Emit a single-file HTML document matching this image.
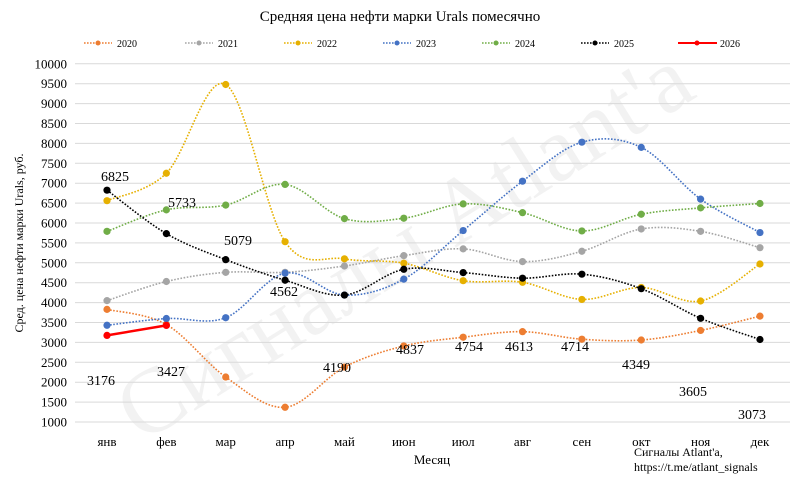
<!DOCTYPE html><html><head><meta charset="utf-8"><style>body{margin:0;background:#fff;overflow:hidden}svg{display:block}text{font-family:"Liberation Serif",serif}</style></head><body>
<svg id="s" width="800" height="477" viewBox="0 0 800 477" xmlns="http://www.w3.org/2000/svg" overflow="hidden">
<text x="400" y="21" font-size="15" text-anchor="middle">Средняя цена нефти марки Urals помесячно</text>
<text transform="translate(420,270) rotate(-32)" font-size="92" fill="#000" fill-opacity="0.05" text-anchor="middle">Сигналы Atlant'a</text>
<text transform="translate(23,243) rotate(-90)" font-size="12" text-anchor="middle">Сред. цена нефти марки Urals, руб.</text>
<text x="432" y="464" font-size="13" text-anchor="middle">Месяц</text>
<text x="634" y="456" font-size="12">Сигналы Atlant'a,</text>
<text x="634" y="471" font-size="12">https://t.me/atlant_signals</text>
<g id="g"></g>
</svg>
<script>
const s=document.getElementById('g');let h='';
const Y=v=>422-(v-1000)*0.0398, X=i=>107+59.36*i;
for(let v=1000;v<=10000;v+=500){h+=`<line x1="75" x2="790" y1="${Y(v)}" y2="${Y(v)}" stroke="#d9d9d9" stroke-width="1"/><text x="67" y="${Y(v)+4.5}" font-size="13" text-anchor="end">${v}</text>`;}
const m=['янв','фев','мар','апр','май','июн','июл','авг','сен','окт','ноя','дек'];
m.forEach((t,i)=>h+=`<text x="${X(i)}" y="446" font-size="13" text-anchor="middle">${t}</text>`);
const D=[['#ed7d31',[3830,3450,2130,1370,2380,2910,3130,3270,3080,3060,3300,3660]],
['#a5a5a5',[4050,4530,4760,4760,4920,5180,5350,5030,5290,5850,5790,5380]],
['#e6b000',[6560,7250,9480,5530,5100,4990,4550,4510,4080,4380,4040,4970]],
['#4472c4',[3430,3600,3620,4740,4190,4590,5810,7050,8030,7900,6600,5760]],
['#70ad47',[5790,6330,6450,6970,6110,6120,6480,6260,5800,6220,6380,6490]],
['#000',[6825,5733,5079,4562,4190,4837,4754,4613,4714,4349,3605,3073]]];
function path(p){let d=`M${p[0][0]},${p[0][1]}`;for(let i=0;i<p.length-1;i++){const a=p[i-1]||p[i],b=p[i],c=p[i+1],e=p[i+2]||c;d+=`C${b[0]+(c[0]-a[0])/6},${b[1]+(c[1]-a[1])/6} ${c[0]-(e[0]-b[0])/6},${c[1]-(e[1]-b[1])/6} ${c[0]},${c[1]}`;}return d;}
D.forEach(([c,v])=>{const p=v.map((y,i)=>[X(i),Y(y)]);h+=`<path d="${path(p)}" fill="none" stroke="${c}" stroke-width="1.6" stroke-dasharray="1.6 1.6"/>`;p.forEach(q=>h+=`<circle cx="${q[0]}" cy="${q[1]}" r="3.6" fill="${c}"/>`);});
h+=`<line x1="${X(0)}" y1="${Y(3176)}" x2="${X(1)}" y2="${Y(3427)}" stroke="#f00" stroke-width="2.5"/><circle cx="${X(0)}" cy="${Y(3176)}" r="3.6" fill="#f00"/><circle cx="${X(1)}" cy="${Y(3427)}" r="3.6" fill="#f00"/>`;
const L=[[115,181,6825],[182,207,5733],[238,245,5079],[284,296,4562],[337,372,4190],[410,354,4837],[469,351,4754],[519,351,4613],[575,351,4714],[636,369,4349],[693,396,3605],[752,419,3073],[101,385,3176],[171,376,3427]];
L.forEach(([x,y,t])=>h+=`<text x="${x}" y="${y}" font-size="14" text-anchor="middle">${t}</text>`);
const lg=[['#ed7d31','2020',84],['#a5a5a5','2021',185],['#e6b000','2022',284],['#4472c4','2023',383],['#70ad47','2024',482],['#000','2025',581]];
lg.forEach(([c,t,x])=>h+=`<line x1="${x}" x2="${x+28}" y1="43" y2="43" stroke="${c}" stroke-width="1.6" stroke-dasharray="1.6 1.4"/><circle cx="${x+14}" cy="43" r="2.5" fill="${c}"/><text x="${x+33}" y="47" font-size="10">${t}</text>`);
h+=`<line x1="678" x2="717" y1="43" y2="43" stroke="#f00" stroke-width="2"/><circle cx="697" cy="43" r="2.5" fill="#f00"/><text x="720" y="47" font-size="10">2026</text>`;
s.innerHTML=h;
</script></body></html>
